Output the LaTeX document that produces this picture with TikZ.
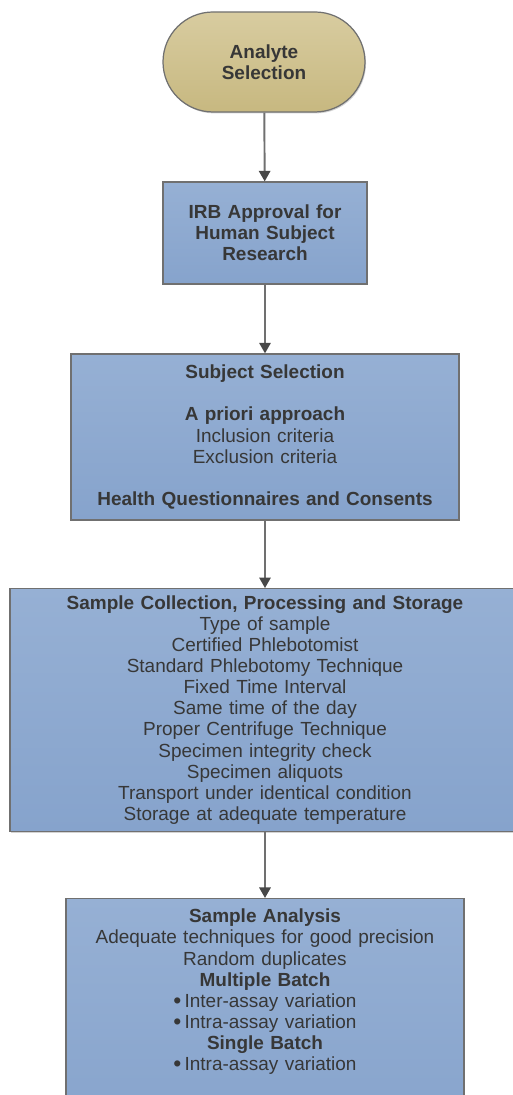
\documentclass[tikz,border=0pt]{standalone}
\usepackage{fontspec}
\setmainfont{Liberation Sans}
\usetikzlibrary{arrows.meta,shadows}

\definecolor{tantop}{RGB}{216,204,160}
\definecolor{tanbot}{RGB}{199,184,128}
\definecolor{bluetop}{RGB}{150,176,212}
\definecolor{bluebot}{RGB}{134,163,204}
\definecolor{edgegray}{RGB}{112,112,112}
\definecolor{inkgray}{RGB}{55,55,55}
\definecolor{arrowgray}{RGB}{112,112,112}
\definecolor{tipgray}{RGB}{72,72,72}

% bigger list dot
\newcommand\bulletdot{{\fontsize{13}{12}\selectfont\raisebox{-0.6pt}{\textbullet}}\,}

\begin{document}
\begin{tikzpicture}[font=\fontsize{10.8}{12}\selectfont, text=inkgray,
    stepbox/.style={draw=edgegray, line width=0.7pt, top color=bluetop, bottom color=bluebot,
        align=center, inner xsep=0pt, inner ysep=4pt,
        drop shadow={shadow xshift=0.6pt, shadow yshift=-0.8pt, opacity=0.35}},
    startbox/.style={stepbox, top color=tantop, bottom color=tanbot, rounded corners=1cm},
    flow/.style={-{Triangle[width=6.5pt,length=6pt,color=tipgray]}, arrowgray, line width=1.1pt}]

    % --- Frame ---
    \useasboundingbox (0,0) rectangle (10.26,21.9);
    \clip (0,0) rectangle (10.26,21.9);

    % --- Start: analyte ---
    \node[startbox, text width=4.04cm, minimum height=2.0cm] (analyte) at (5.28,20.66)
        {\textbf{Analyte}\\\textbf{Selection}};

    % --- IRB ---
    \node[stepbox, text width=4.08cm, minimum height=2.04cm] (irb) at (5.30,17.24)
        {\textbf{IRB Approval for}\\\textbf{Human Subject}\\\textbf{Research}};

    % --- Subjects ---
    \node[stepbox, text width=7.76cm, minimum height=3.32cm] (subject) at (5.30,13.16)
        {\textbf{Subject Selection}\\[12pt]
         \textbf{A priori approach}\\
         Inclusion criteria\\
         Exclusion criteria\\[12pt]
         \textbf{Health Questionnaires and Consents}};

    % --- Collection (runs past the right edge) ---
    \node[stepbox, text width=10.2cm, minimum height=4.82cm] (collection) at (5.30,7.70)
        {\textbf{Sample Collection, Processing and Storage}\\
         Type of sample\\
         Certified Phlebotomist\\
         Standard Phlebotomy Technique\\
         Fixed Time Interval\\
         Same time of the day\\
         Proper Centrifuge Technique\\
         Specimen integrity check\\
         Specimen aliquots\\
         Transport under identical condition\\
         Storage at adequate temperature};

    % --- Analysis (runs past the bottom edge) ---
    \node[stepbox, text width=7.96cm, anchor=north, inner ysep=6pt, text depth=4.2cm] (analysis) at (5.30,3.94)
        {\textbf{Sample Analysis}\\
         Adequate techniques for good precision\\
         Random duplicates\\
         \textbf{Multiple Batch}\\
         \bulletdot Inter-assay variation\\
         \bulletdot Intra-assay variation\\
         \textbf{Single Batch}\\
         \bulletdot Intra-assay variation};

    % --- Connectors ---
    \draw[flow] (analyte) -- (irb);
    \draw[flow] (irb) -- (subject);
    \draw[flow] (subject) -- (collection);
    \draw[flow] (collection) -- (analysis);

\end{tikzpicture}
\end{document}
